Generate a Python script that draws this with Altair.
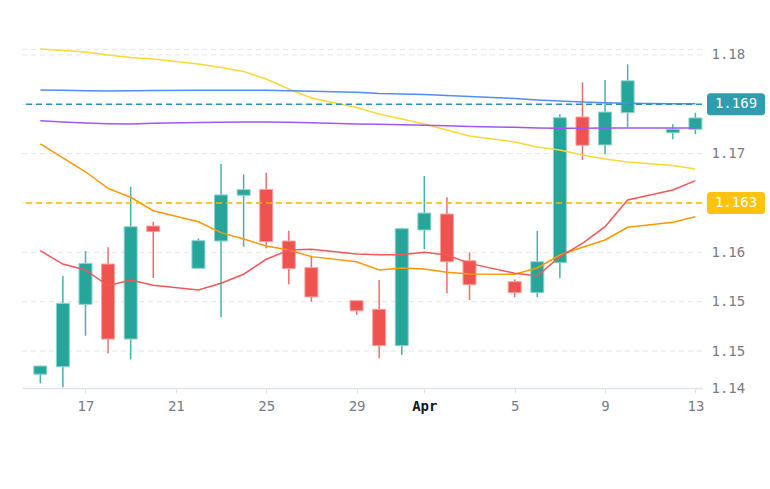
import altair as alt
import pandas as pd

# Daily candles (Sundays have no session)
dates = ["2021-03-15", "2021-03-16", "2021-03-17", "2021-03-18", "2021-03-19", "2021-03-20",
         "2021-03-22", "2021-03-23", "2021-03-24", "2021-03-25", "2021-03-26", "2021-03-27",
         "2021-03-29", "2021-03-30", "2021-03-31", "2021-04-01", "2021-04-02", "2021-04-03",
         "2021-04-05", "2021-04-06", "2021-04-07", "2021-04-08", "2021-04-09", "2021-04-10",
         "2021-04-12", "2021-04-13"]
open_ = [1.15259, 1.15305, 1.15684, 1.15929, 1.15473, 1.16160,
         1.15903, 1.16069, 1.16347, 1.16383, 1.16069, 1.15907,
         1.15706, 1.15654, 1.15433, 1.16136, 1.16233, 1.15949,
         1.15822, 1.15755, 1.15937, 1.16823, 1.16653, 1.16849,
         1.16727, 1.16748]
high = [1.15312, 1.15856, 1.16008, 1.16031, 1.16399, 1.16186,
        1.16085, 1.16537, 1.16474, 1.16484, 1.16132, 1.15980,
        1.15708, 1.15832, 1.16150, 1.16464, 1.16335, 1.16000,
        1.15836, 1.16130, 1.16839, 1.17034, 1.17048, 1.17143,
        1.16778, 1.16849]
low = [1.15204, 1.15180, 1.15493, 1.15386, 1.15350, 1.15844,
       1.15900, 1.15605, 1.16034, 1.16025, 1.15806, 1.15700,
       1.15619, 1.15356, 1.15376, 1.16019, 1.15751, 1.15710,
       1.15727, 1.15727, 1.15842, 1.16561, 1.16596, 1.16760,
       1.16687, 1.16718]
close = [1.15309, 1.15690, 1.15933, 1.15473, 1.16156, 1.16126,
         1.16071, 1.16349, 1.16381, 1.16065, 1.15901, 1.15729,
         1.15645, 1.15433, 1.16144, 1.16239, 1.15943, 1.15803,
         1.15755, 1.15943, 1.16819, 1.16651, 1.16853, 1.17043,
         1.16748, 1.16817]

# Moving-average overlays
ma_yellow = [1.17236, 1.17227, 1.17218, 1.17200, 1.17185, 1.17175,
             1.17145, 1.17124, 1.17099, 1.17054, 1.16993, 1.16938,
             1.16881, 1.16841, 1.16811, 1.16780, 1.16744, 1.16707,
             1.16671, 1.16640, 1.16622, 1.16592, 1.16567, 1.16549,
             1.16528, 1.16507]
ma_blue = [1.16987, 1.16985, 1.16983, 1.16981, 1.16982, 1.16984,
           1.16986, 1.16986, 1.16986, 1.16985, 1.16982, 1.16979,
           1.16973, 1.16966, 1.16963, 1.16960, 1.16953, 1.16947,
           1.16935, 1.16926, 1.16920, 1.16914, 1.16909, 1.16906,
           1.16904, 1.16903]
ma_purple = [1.16800, 1.16792, 1.16786, 1.16782, 1.16781, 1.16785,
             1.16789, 1.16791, 1.16792, 1.16792, 1.16791, 1.16788,
             1.16781, 1.16778, 1.16775, 1.16772, 1.16769, 1.16765,
             1.16760, 1.16756, 1.16754, 1.16755, 1.16756, 1.16756,
             1.16756, 1.16756]
ma_orange = [1.16659, 1.16574, 1.16490, 1.16389, 1.16335, 1.16253,
             1.16186, 1.16120, 1.16081, 1.16039, 1.16014, 1.15974,
             1.15943, 1.15893, 1.15905, 1.15899, 1.15879, 1.15868,
             1.15867, 1.15905, 1.15984, 1.16031, 1.16075, 1.16152,
             1.16183, 1.16217]
ma_red = [1.16010, 1.15929, 1.15893, 1.15797, 1.15832, 1.15800,
          1.15771, 1.15812, 1.15867, 1.15958, 1.16014, 1.16019,
          1.15990, 1.15986, 1.15986, 1.16000, 1.15984, 1.15933,
          1.15873, 1.15856, 1.15974, 1.16055, 1.16156, 1.16318,
          1.16379, 1.16436]

ma_names = ["yellow", "blue", "purple", "orange", "red"]
ma_colors = ["#fdd835", "#4f8ef7", "#a155f5", "#ff9800", "#f4565a"]

# Horizontal price levels with their tags
price_levels = [1.169, 1.163]
price_line_colors = ["#2a90bb", "#fbb700"]
price_tag_colors = ["#2f9cb0", "#ffc20e"]

# Right-hand price axis
ytick_values = [1.172, 1.166, 1.160, 1.157, 1.154, 1.151754]
ytick_labels = ["1.18", "1.17", "1.16", "1.15", "1.15", "1.14"]
grid_values = [1.17234, 1.172, 1.169, 1.166, 1.163, 1.160, 1.157, 1.154]

# Date axis ticks
xtick_dates = ["2021-03-17", "2021-03-21", "2021-03-25", "2021-03-29",
               "2021-04-01", "2021-04-05", "2021-04-09", "2021-04-13"]

W, H = 680, 368
y_domain = [1.151754, 1.174125]
px_per_unit = H / (y_domain[1] - y_domain[0])


def ms(s):
    return int(pd.Timestamp(s, tz="UTC").value // 10**6)


x_domain = [ms("2021-03-14T04:33:00"), ms("2021-04-13T07:00:00")]

xscale = alt.Scale(type="utc", domain=x_domain, padding=0)
yscale = alt.Scale(domain=y_domain, nice=False, zero=False, padding=0)

candles = pd.DataFrame({"date": dates, "open": open_, "high": high,
                        "low": low, "close": close})
candles["dir"] = ["up" if c >= o else "down" for o, c in zip(open_, close)]

ma_df = pd.concat([
    pd.DataFrame({"date": dates, "value": vals, "series": name, "order": i})
    for i, (name, vals) in enumerate(zip(ma_names,
                                         [ma_yellow, ma_blue, ma_purple, ma_orange, ma_red]))
])

levels = pd.DataFrame({"price": price_levels,
                       "line": price_line_colors,
                       "tag": price_tag_colors})
levels["label"] = [f"{p:.3f}" for p in price_levels]
half_tag = 11 / px_per_unit
levels["top"] = levels["price"] + half_tag
levels["bot"] = levels["price"] - half_tag

grid_df = pd.DataFrame({"v": grid_values})

label_font = "DejaVu Sans Mono"
label_color = "#787b86"

ylabel_expr = ""
for v, t in zip(ytick_values, ytick_labels):
    ylabel_expr += f"abs(datum.value - {v}) < 0.000001 ? '{t}' : "
ylabel_expr += "''"

x_axis = alt.Axis(
    values=[ms(d) for d in xtick_dates],
    labelExpr="utcdate(datum.value) == 1 ? utcFormat(datum.value, '%b') : utcdate(datum.value)",
    labelFontWeight={"condition": {"test": "utcdate(datum.value) == 1", "value": "bold"},
                     "value": "normal"},
    labelColor={"condition": {"test": "utcdate(datum.value) == 1", "value": "#131722"},
                "value": label_color},
    labelFont=label_font, labelFontSize=14, labelPadding=6,
    tickSize=5, tickColor="#e0e3eb", domainColor="#e0e3eb", domainWidth=1.5,
    grid=False, title=None, labelFlush=False, labelOverlap=False,
)
y_axis = alt.Axis(
    orient="right", values=ytick_values, labelExpr=ylabel_expr,
    labelFont=label_font, labelFontSize=14, labelColor=label_color,
    labelPadding=9, ticks=False, domain=False, grid=False, title=None,
    labelFlush=False, labelOverlap=False, labelBound=False,
)

color_dir = alt.Color("dir:N", scale=alt.Scale(domain=["up", "down"],
                                               range=["#26a69a", "#ef5350"]), legend=None)
stroke_dir = alt.Stroke("dir:N", scale=alt.Scale(domain=["up", "down"],
                                                 range=["#8fd4cc", "#f7a3a1"]), legend=None)

grid = alt.Chart(grid_df).mark_rule(color="#e3e5ea", strokeDash=[5, 4], strokeWidth=1).encode(
    y=alt.Y("v:Q", scale=yscale, axis=y_axis)
)

wicks = alt.Chart(candles).mark_rule(strokeWidth=1.5, opacity=0.85).encode(
    x=alt.X("date:T", scale=xscale, axis=x_axis),
    y=alt.Y("low:Q", scale=yscale),
    y2="high:Q",
    color=color_dir,
)

bodies = alt.Chart(candles).mark_bar(size=13, strokeWidth=1).encode(
    x=alt.X("date:T", scale=xscale),
    y=alt.Y("open:Q", scale=yscale),
    y2="close:Q",
    color=color_dir,
    stroke=stroke_dir,
)

ma_lines = alt.Chart(ma_df).mark_line(strokeWidth=1.5, interpolate="linear").encode(
    x=alt.X("date:T", scale=xscale),
    y=alt.Y("value:Q", scale=yscale),
    color=alt.Color("series:N", scale=alt.Scale(domain=ma_names, range=ma_colors), legend=None),
    order="order:Q",
)

level_lines = alt.Chart(levels).mark_rule(strokeDash=[6, 4], strokeWidth=1.5).encode(
    y=alt.Y("price:Q", scale=yscale),
    color=alt.Color("line:N", scale=None),
)

tags = alt.Chart(levels).mark_rect(cornerRadius=3).encode(
    x=alt.value(685), x2=alt.value(743),
    y=alt.Y("top:Q", scale=yscale), y2="bot:Q",
    color=alt.Color("tag:N", scale=None),
)

tag_text = alt.Chart(levels).mark_text(color="white", font=label_font, fontSize=14,
                                       align="center", baseline="middle").encode(
    x=alt.value(714),
    y=alt.Y("price:Q", scale=yscale),
    text="label:N",
)

chart = alt.layer(grid, wicks, bodies, ma_lines, level_lines, tags, tag_text).resolve_scale(
    color="independent", stroke="independent"
).properties(
    width=W, height=H,
    autosize=alt.AutoSizeParams(type="none"),
    padding={"left": 22, "top": 20, "right": 68, "bottom": 101},
    background="white",
).configure_view(stroke=None)

chart.save("out.html", embed_options={"renderer": "svg", "actions": False})
